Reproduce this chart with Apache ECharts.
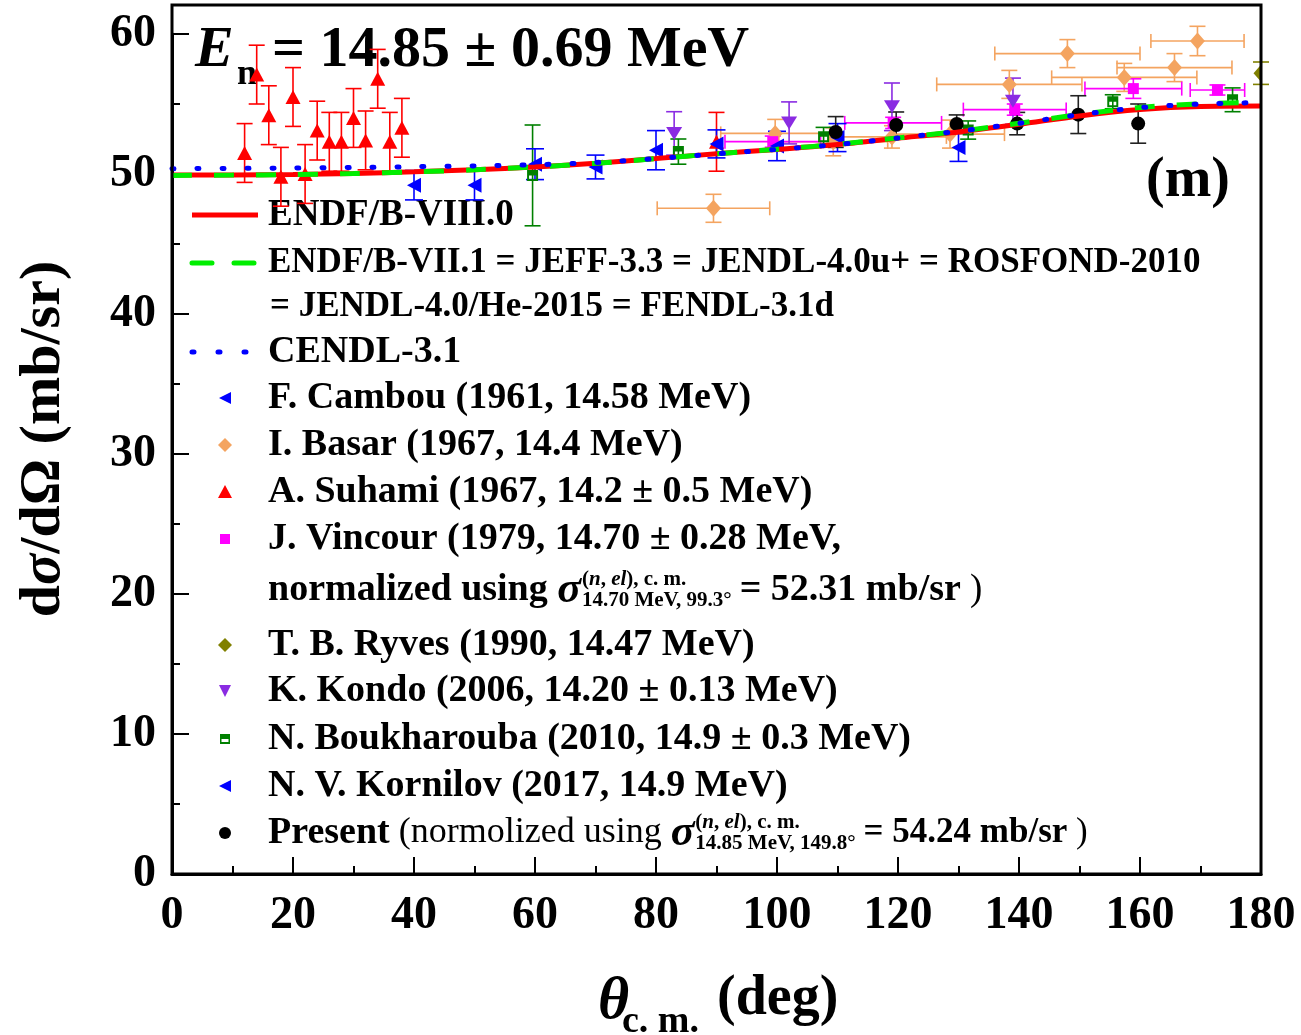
<!DOCTYPE html>
<html><head><meta charset="utf-8">
<script src="https://cdn.jsdelivr.net/npm/echarts@6/dist/echarts.min.js"></script>
<style>html,body{margin:0;padding:0;background:#fff}#c{width:1301px;height:1035px}</style>
</head><body><div id="c"></div>
<script>
const FF = '"Liberation Serif","Times New Roman",serif';

// ---- tick labels
const xTickLabels = [0, 20, 40, 60, 80, 100, 120, 140, 160, 180];
const yTickLabels = [0, 10, 20, 30, 40, 50, 60];

// ---- evaluated curves
const curveTheta = [0,10,20,30,40,50,60,70,80,90,100,110,120,130,140,150,160,170,180];
const endf8  = [49.92,49.93,49.97,50.04,50.16,50.30,50.50,50.76,51.10,51.45,51.75,52.10,52.55,53.00,53.55,54.15,54.60,54.82,54.85];
const endf71 = [49.90,49.92,49.96,50.03,50.15,50.30,50.50,50.76,51.10,51.45,51.77,52.12,52.58,53.05,53.62,54.25,54.75,55.02,55.12];
const cendl  = [50.38,50.40,50.43,50.47,50.52,50.58,50.66,50.82,51.10,51.44,51.76,52.11,52.57,53.05,53.62,54.24,54.74,55.00,55.10];

// ---- experimental data
const cambouTheta = [40, 50, 60, 70, 80];
const cambouVal   = [49.2, 49.2, 50.7, 50.5, 51.7];
const cambouErr   = [1.05, 1.05, 1.1, 0.85, 1.4];

const basarTheta = [89.5, 99.7, 109.3, 119.0, 128.6, 138.4, 148.0, 157.4, 165.7, 169.5];
const basarVal   = [47.55, 52.9, 52.3, 52.65, 52.85, 56.4, 58.6, 56.9, 57.6, 59.5];
const basarErr   = [1.0, 1.0, 1.0, 0.8, 1.0, 1.0, 1.0, 1.0, 1.0, 1.05];
const basarXErr  = [9.3, 9.0, 9.0, 9.0, 9.0, 12.0, 12.0, 12.0, 9.5, 7.7];

const suhamiTheta = [12, 14, 16, 18, 20, 22, 24, 26, 28, 30, 32, 34, 36, 38, 90];
const suhamiVal   = [51.5, 57.1, 54.2, 49.8, 55.5, 50.0, 53.1, 52.3, 52.3, 54.0, 52.4, 56.8, 52.3, 53.3, 52.3];
const suhamiErr   = [2.1, 2.1, 2.1, 2.1, 2.1, 2.1, 2.1, 2.1, 2.1, 2.1, 2.1, 2.1, 2.1, 2.1, 2.1];

const vincourTheta = [99.3, 119.2, 139.3, 158.9, 172.8];
const vincourVal   = [52.31, 53.65, 54.6, 56.1, 56.0];
const vincourErr   = [0.4, 0.4, 0.4, 0.7, 0.36];
const vincourXErr  = [7.9, 8.0, 8.5, 8.0, 4.5];

const ryvesTheta = [180];
const ryvesVal   = [57.2];
const ryvesErr   = [0.8];

const kondoTheta = [83, 102, 119, 139];
const kondoVal   = [52.9, 53.65, 54.8, 55.2];
const kondoErr   = [1.55, 1.5, 1.7, 1.65];

const boukTheta = [59.6, 83.7, 107.7, 131.6, 155.5, 175.3];
const boukVal   = [49.9, 51.6, 52.66, 53.14, 55.16, 55.3];
const boukErr   = [3.6, 0.9, 0.67, 0.65, 0.5, 0.85];

const kornTheta = [90, 100, 110, 130];
const kornVal   = [52.15, 52.0, 52.6, 51.9];
const kornErr   = [1.0, 1.05, 1.0, 1.0];

const presTheta = [109.7, 119.7, 129.7, 139.7, 149.8, 159.7];
const presVal   = [53.0, 53.5, 53.57, 53.6, 54.24, 53.6];
const presErr   = [1.1, 0.93, 0.65, 0.8, 1.35, 1.4];

// ---- symbols
const LEFT_TRI = 'path://M0,6 L12,0 L12,12 Z';
const DOWN_TRI = 'path://M0,0 L12,0 L6,12 Z';
const HALF_SQ  = 'path://M0,0 L10,0 L10,10 L0,10 Z M1.8,5 L1.8,8.2 L8.2,8.2 L8.2,5 Z';

function pairs(xs, ys) { return xs.map((x, i) => [x, ys[i]]); }

function errSeries(color, xs, ys, eys, exs, capW) {
  const data = xs.map((x, i) => [x, ys[i], eys ? eys[i] : 0, exs ? exs[i] : 0]);
  return {
    type: 'custom', data: data, clip: false, silent: true,
    encode: { x: 0, y: 1 },
    renderItem: function (params, api) {
      const x = api.value(0), y = api.value(1), ey = api.value(2), ex = api.value(3);
      const st = { stroke: color, lineWidth: 1.6, fill: null };
      const ch = [];
      if (ey > 0) {
        const a = api.coord([x, y + ey]), b = api.coord([x, y - ey]);
        ch.push({ type: 'line', shape: { x1: a[0], y1: a[1], x2: b[0], y2: b[1] }, style: st });
        ch.push({ type: 'line', shape: { x1: a[0] - capW, y1: a[1], x2: a[0] + capW, y2: a[1] }, style: st });
        ch.push({ type: 'line', shape: { x1: b[0] - capW, y1: b[1], x2: b[0] + capW, y2: b[1] }, style: st });
      }
      if (ex > 0) {
        const a = api.coord([x - ex, y]), b = api.coord([x + ex, y]);
        ch.push({ type: 'line', shape: { x1: a[0], y1: a[1], x2: b[0], y2: b[1] }, style: st });
        ch.push({ type: 'line', shape: { x1: a[0], y1: a[1] - 7, x2: a[0], y2: a[1] + 7 }, style: st });
        ch.push({ type: 'line', shape: { x1: b[0], y1: b[1] - 7, x2: b[0], y2: b[1] + 7 }, style: st });
      }
      return { type: 'group', children: ch };
    }
  };
}

function scat(name, xs, ys, symbol, size, color) {
  return { type: 'scatter', name: name, data: pairs(xs, ys), symbol: symbol, symbolSize: size,
           itemStyle: { color: color, opacity: 1 } };
}

// diamond marker clipped to the plotting area (point sits on the 180° edge)
function clippedDiamond(name, xs, ys, w, h, color) {
  return {
    type: 'custom', name: name, data: pairs(xs, ys), clip: true, silent: true,
    encode: { x: 0, y: 1 },
    renderItem: function (params, api) {
      const p = api.coord([api.value(0), api.value(1)]);
      return { type: 'polygon', shape: { points: [[p[0], p[1] - h / 2], [p[0] + w / 2, p[1]], [p[0], p[1] + h / 2], [p[0] - w / 2, p[1]]] },
               style: { fill: color } };
    }
  };
}

const C = {
  red: '#ff0000', green: '#00ee00', blue: '#0000ff', orange: '#f4a460', magenta: '#ff00ff',
  olive: '#808000', purple: '#8a2be2', dgreen: '#008000', black: '#000000'
};

const series = [
  { type: 'line', name: 'ENDF/B-VIII.0', data: pairs(curveTheta, endf8), symbol: 'none', smooth: 0.3,
    lineStyle: { color: C.red, width: 5 }, itemStyle: { color: C.red } },
  { type: 'line', name: 'ENDF/B-VII.1', data: pairs(curveTheta, endf71), symbol: 'none', smooth: 0.3,
    lineStyle: { color: C.green, width: 5, type: [20, 22] }, itemStyle: { color: C.green } },
  { type: 'line', name: 'CENDL-3.1', data: pairs(curveTheta, cendl), symbol: 'none', smooth: 0.3,
    lineStyle: { color: C.blue, width: 5, type: [2, 23], cap: 'round' }, itemStyle: { color: C.blue } },

  errSeries(C.orange, basarTheta, basarVal, basarErr, basarXErr, 8),
  scat('Basar', basarTheta, basarVal, 'diamond', [15, 17], C.orange),
  errSeries(C.red, suhamiTheta, suhamiVal, suhamiErr, null, 8),
  scat('Suhami', suhamiTheta, suhamiVal, 'triangle', [15, 14], C.red),
  errSeries(C.magenta, vincourTheta, vincourVal, vincourErr, vincourXErr, 8),
  scat('Vincour', vincourTheta, vincourVal, 'rect', 11, C.magenta),
  errSeries(C.olive, ryvesTheta, ryvesVal, ryvesErr, null, 8),
  clippedDiamond('Ryves', ryvesTheta, ryvesVal, 15, 17, C.olive),
  errSeries(C.purple, kondoTheta, kondoVal, kondoErr, null, 8),
  scat('Kondo', kondoTheta, kondoVal, DOWN_TRI, [16, 13], C.purple),
  errSeries(C.dgreen, boukTheta, boukVal, boukErr, null, 8),
  scat('Boukharouba', boukTheta, boukVal, HALF_SQ, 11, C.dgreen),
  errSeries(C.blue, cambouTheta, cambouVal, cambouErr, null, 9),
  scat('Cambou', cambouTheta, cambouVal, LEFT_TRI, [14, 15], C.blue),
  errSeries(C.blue, kornTheta, kornVal, kornErr, null, 9),
  scat('Kornilov', kornTheta, kornVal, LEFT_TRI, [14, 15], C.blue),
  errSeries('#222', presTheta, presVal, presErr, null, 8),
  scat('Present', presTheta, presVal, 'circle', 14, C.black)
];

// ---- text measurement
const mctx = document.createElement('canvas').getContext('2d');
function tw(t, font) { mctx.font = font; return mctx.measureText(t).width; }
const fMain = 'bold 38px ' + FF;
const fSig = 'italic bold 44px ' + FF;
const fSup = 'bold 21px ' + FF;
const fSupI = 'italic bold 21px ' + FF;
const fSub = 'bold 21px ' + FF;

function txt(x, y, text, font, extra) {
  return Object.assign({ type: 'text', x: x, y: y, silent: true,
    style: { text: text, font: font, fill: '#000', align: 'left', verticalAlign: 'middle' } }, extra || {});
}

// ---- legend (key) rows
const LX0 = 192, LX1 = 258, LC = 225, TX = 268;
function lineIcon(y, color, dash) {
  const st = { stroke: color, lineWidth: 5, lineCap: dash ? 'round' : 'butt' };
  if (dash) st.lineDash = dash;
  return { type: 'line', silent: true, shape: { x1: LX0, y1: y, x2: LX1, y2: y }, style: st };
}
function polyIcon(pts, color) { return { type: 'polygon', silent: true, shape: { points: pts }, style: { fill: color } }; }
const iconMakers = {
  leftTri: (y, c) => polyIcon([[LC - 6, y], [LC + 6, y - 6], [LC + 6, y + 6]], c),
  downTri: (y, c) => polyIcon([[LC - 6, y - 6], [LC + 6, y - 6], [LC, y + 6]], c),
  upTri: (y, c) => polyIcon([[LC, y - 7], [LC + 7, y + 6], [LC - 7, y + 6]], c),
  diamond: (y, c) => polyIcon([[LC, y - 7], [LC + 7, y], [LC, y + 7], [LC - 7, y]], c),
  square: (y, c) => ({ type: 'rect', silent: true, shape: { x: LC - 5, y: y - 5, width: 10, height: 10 }, style: { fill: c } }),
  circle: (y, c) => ({ type: 'circle', silent: true, shape: { cx: LC, cy: y, r: 6 }, style: { fill: c } }),
  halfSq: (y, c) => ({ type: 'group', silent: true, children: [
    { type: 'rect', shape: { x: LC - 5, y: y - 5, width: 10, height: 10 }, style: { fill: c } },
    { type: 'rect', shape: { x: LC - 3.5, y: y, width: 7, height: 3 }, style: { fill: '#fff' } } ] })
};

const keyRows = [
  { line: [C.red, null], text: 'ENDF/B-VIII.0', y: 215, font: 'bold 37px ' + FF },
  { line: [C.green, [20, 22]], text: 'ENDF/B-VII.1 = JEFF-3.3 = JENDL-4.0u+ = ROSFOND-2010', y: 263, font: 'bold 35px ' + FF },
  { text: '= JENDL-4.0/He-2015 = FENDL-3.1d', y: 307, font: 'bold 35px ' + FF, x: 270 },
  { line: [C.blue, [2, 24]], text: 'CENDL-3.1', y: 352 },
  { sym: ['leftTri', C.blue], text: 'F. Cambou (1961, 14.58 MeV)', y: 398 },
  { sym: ['diamond', C.orange], text: 'I. Basar (1967, 14.4 MeV)', y: 445 },
  { sym: ['upTri', C.red], text: 'A. Suhami (1967, 14.2 ± 0.5 MeV)', y: 492 },
  { sym: ['square', C.magenta], text: 'J. Vincour (1979, 14.70 ± 0.28 MeV,', y: 539 },
  { sym: ['diamond', C.olive], text: 'T. B. Ryves (1990, 14.47 MeV)', y: 645 },
  { sym: ['downTri', C.purple], text: 'K. Kondo (2006, 14.20 ± 0.13 MeV)', y: 691 },
  { sym: ['halfSq', C.dgreen], text: 'N. Boukharouba (2010, 14.9 ± 0.3 MeV)', y: 739 },
  { sym: ['leftTri', C.blue], text: 'N. V. Kornilov (2017, 14.9 MeV)', y: 786 },
  { sym: ['circle', C.black], text: 'Present', y: 833 }
];
const keyEls = [];
keyRows.forEach(r => {
  if (r.line) keyEls.push(lineIcon(r.y, r.line[0], r.line[1]));
  if (r.sym) keyEls.push(iconMakers[r.sym[0]](r.y, r.sym[1]));
  keyEls.push(txt(r.x || TX, r.y, r.text, r.font || fMain));
});

function sigmaLine(x0, y, lead, leadFont, subText, tail, tailFont, closeFont) {
  const els = [];
  els.push(txt(x0, y, lead, leadFont));
  let x = x0 + tw(lead, leadFont);
  els.push(txt(x, y + 1, 'σ', fSig));
  x += tw('σ', fSig) + 1;
  const supW = tw('(', fSup) + tw('n', fSupI) + tw(', ', fSup) + tw('el', fSupI) + tw('), c. m.', fSup);
  els.push({ type: 'text', x: x, y: y - 10, silent: true, style: {
    text: '{r|(}{i|n}{r|, }{i|el}{r|), c. m.}', fill: '#000', align: 'left', verticalAlign: 'middle',
    rich: { r: { font: fSup, fill: '#000' }, i: { font: fSupI, fill: '#000' } } } });
  els.push(txt(x, y + 11, subText, fSub));
  x += Math.max(supW, tw(subText, fSub)) + 8;
  els.push(txt(x, y, tail, tailFont));
  x += tw(tail, tailFont);
  els.push(txt(x, y, ' )', closeFont));
  return els;
}

const graphics = [
  { type: 'rect', shape: { x: 172, y: 5, width: 1089, height: 869 }, style: { fill: 'none', stroke: '#000', lineWidth: 3 }, z: 100, silent: true },
  txt(195, 51, 'E', 'italic bold 58px ' + FF),
  txt(237, 75, 'n', 'bold 36px ' + FF),
  txt(272, 51, '= 14.85 ± 0.69 MeV', 'bold 58px ' + FF),
  { type: 'text', x: 1188, y: 182, silent: true, style: { text: '(m)', font: 'bold 56px ' + FF, fill: '#000', align: 'center', verticalAlign: 'middle' } },
  { type: 'text', x: 44, y: 439, rotation: Math.PI / 2, silent: true, style: {
      text: '{a|d}{b|σ}{a|/dΩ (mb/sr)}', fill: '#000', align: 'center', verticalAlign: 'middle',
      rich: { a: { font: 'bold 58px ' + FF, fill: '#000' }, b: { font: 'italic bold 58px ' + FF, fill: '#000' } } } },
  txt(598, 1002, 'θ', 'italic bold 60px ' + FF),
  txt(622, 1022, 'c. m.', 'bold 38px ' + FF),
  txt(717, 1000, '(deg)', 'bold 56px ' + FF)
].concat(
  keyEls,
  sigmaLine(268, 590, 'normalized using ', fMain, '14.70 MeV, 99.3°', '= 52.31 mb/sr', fMain, '37px ' + FF),
  sigmaLine(268 + tw('Present', fMain), 833, ' (normolized using ', '36px ' + FF, '14.85 MeV, 149.8°', '= 54.24 mb/sr', 'bold 35px ' + FF, '35px ' + FF)
);

const axisFont = { fontFamily: FF, fontWeight: 'bold', fontSize: 46, color: '#000' };

const option = {
  animation: false,
  backgroundColor: '#fff',
  grid: { left: 172, right: 40, top: 34, bottom: 161, containLabel: false },
  xAxis: {
    type: 'value', min: 0, max: 180, interval: 20,
    axisLine: { show: true, lineStyle: { color: '#000', width: 3 } },
    axisTick: { show: true, inside: true, length: 17, lineStyle: { color: '#000', width: 2 } },
    minorTick: { show: true, splitNumber: 2, length: 8, lineStyle: { color: '#000', width: 2 } },
    splitLine: { show: false },
    axisLabel: Object.assign({ margin: 19, formatter: v => (xTickLabels.indexOf(v) >= 0 ? String(v) : '') }, axisFont)
  },
  yAxis: {
    type: 'value', min: 0, max: 60, interval: 10,
    axisLine: { show: true, lineStyle: { color: '#000', width: 3 } },
    axisTick: { show: true, inside: true, length: 17, lineStyle: { color: '#000', width: 2 } },
    minorTick: { show: true, splitNumber: 2, length: 8, lineStyle: { color: '#000', width: 2 } },
    splitLine: { show: false },
    axisLabel: Object.assign({ margin: 16, formatter: v => (yTickLabels.indexOf(v) >= 0 ? String(v) : '') }, axisFont)
  },
  graphic: graphics,
  series: series
};

const chart = echarts.init(document.getElementById('c'), null, { renderer: 'canvas' });
chart.setOption(option);
</script></body></html>
